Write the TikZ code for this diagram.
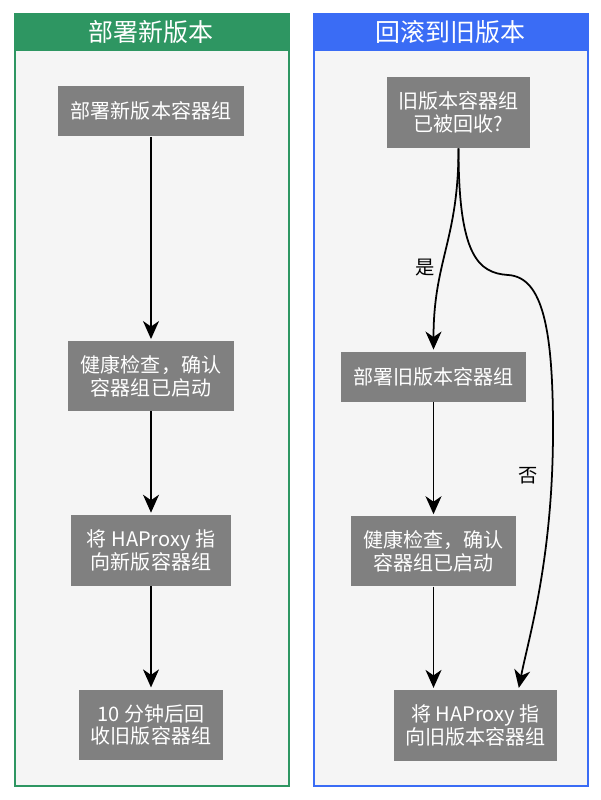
\documentclass[tikz,border=0pt]{standalone}
\usepackage{fontspec}
\setmainfont{Noto Sans CJK SC}
\usepackage{tikz}
\usetikzlibrary{arrows.meta, positioning}
\usepackage{xcolor}
\definecolor{newGreen}{RGB}{46,150,98}
\definecolor{oldBlue}{RGB}{58,108,245}
\definecolor{panelBg}{RGB}{245,245,245}
\definecolor{boxGray}{RGB}{128,128,128}

\begin{document}
\begin{tikzpicture}[
  x=0.02cm, y=0.02cm,
  >={Stealth[length=0.36cm, width=0.32cm, inset=0.11cm]},
  box/.style={fill=boxGray, text=white, align=center, inner sep=2pt, font=\fontsize{11.4}{12.8}\selectfont},
  panel/.style={draw=#1, line width=1.1pt, fill=panelBg, anchor=north west, minimum width=5.48cm, minimum height=15.44cm, inner sep=0pt},
  head/.style={fill=#1, anchor=north west, minimum width=5.48cm, minimum height=0.76cm, text=white, font=\fontsize{14.2}{16}\selectfont, inner sep=0pt},
  arrow/.style={->, line width=1pt, draw=black, shorten >=1pt},
  answer/.style={font=\fontsize{11}{13}\selectfont, text=black}
]
  \useasboundingbox (0,0) rectangle (600,-800);

  % Panneaux ==============================
  \node[panel=newGreen] (newPanel) at (14,-13) {};
  \node[head=newGreen] (newHead) at (14,-13) {部署新版本};
  \node[panel=oldBlue] (oldPanel) at (313,-13) {};
  \node[head=oldBlue] (oldHead) at (313,-13) {回滚到旧版本};

  % Deploiement nouvelle version
  \node[box, minimum width=3.74cm, minimum height=1.02cm] (newPods) at (151,-111) {部署新版本容器组};
  \node[box, below=4.08cm of newPods, minimum width=3.32cm, minimum height=1.4cm] (newCheck) {健康检查，确认\\容器组已启动};
  \node[box, below=2.06cm of newCheck, minimum width=3.2cm, minimum height=1.42cm] (newProxy) {将 HAProxy 指\\向新版容器组};
  \node[box, below=2.06cm of newProxy, minimum width=2.9cm, minimum height=1.42cm] (oldRecycle) {10 分钟后回\\收旧版容器组};

  % Retour ancienne version
  \node[box, minimum width=2.86cm, minimum height=1.42cm] (oldGone) at (458.5,-112.5) {旧版本容器组\\已被回收?};
  \node[box, below=4.06cm of oldGone, xshift=-0.5cm, minimum width=3.72cm, minimum height=1cm] (oldPods) {部署旧版本容器组};
  \node[box, below=2.28cm of oldPods, minimum width=3.32cm, minimum height=1.4cm] (oldCheck) {健康检查，确认\\容器组已启动};
  \node[box, below=2.06cm of oldCheck, xshift=0.84cm, minimum width=3.28cm, minimum height=1.42cm] (oldProxy) {将 HAProxy 指\\向旧版本容器组};

  % Fleches
  \draw[arrow] (newPods) -- (newCheck);
  \draw[arrow] (newCheck) -- (newProxy);
  \draw[arrow] (newProxy) -- (oldRecycle);

  \draw[arrow] (oldGone.south) .. controls +(0,-92) and +(0,91) .. (oldPods.north);
  \node[answer] (yesLabel) at (425,-268) {是};
  \draw[arrow] (oldGone.south) .. controls +(0,-107) and (478,-273) .. (508,-275)
    .. controls (543,-277) and (553,-330) .. (553,-430)
    .. controls (553,-560) and (528,-640) .. ([xshift=0.86cm]oldProxy.north);
  \node[answer] (noLabel) at (528,-476) {否};
  \draw[arrow] (oldPods) -- (oldCheck);
  \draw[arrow] (oldCheck.south) -- (oldCheck.south |- oldProxy.north);

\end{tikzpicture}
\end{document}
